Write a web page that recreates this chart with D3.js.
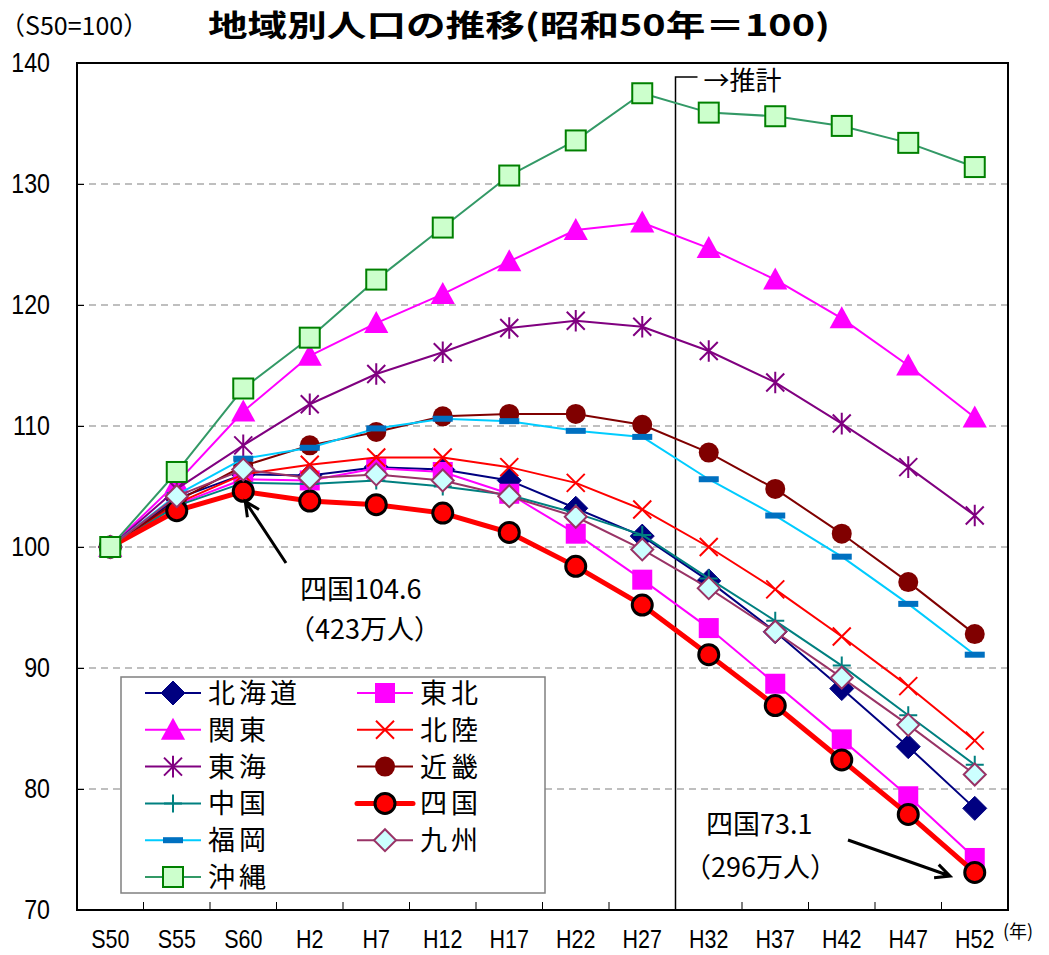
<!DOCTYPE html>
<html>
<head>
<meta charset="utf-8">
<script src="https://cdn.jsdelivr.net/npm/d3@7"></script>
<style>
  html, body { margin: 0; padding: 0; background: #fff; }
  svg { display: block; }
</style>
</head>
<body>
<svg id="chart" width="1049" height="955"></svg>
<script>
// Periods (census years, Showa / Heisei)
const periods = ["S50","S55","S60","H2","H7","H12","H17","H22","H27","H32","H37","H42","H47","H52"];
const yTicks = [70, 80, 90, 100, 110, 120, 130, 140];

// Population index by region (S50 = 100)
const hokkaido = [100, 104.0, 106.0, 105.9, 106.6, 106.4, 105.5, 103.2, 100.9, 97.2, 93.0, 88.3, 83.5, 78.4];
const tohoku   = [100, 103.5, 105.6, 105.5, 106.5, 106.2, 104.4, 101.1, 97.3, 93.3, 88.7, 84.1, 79.4, 74.3];
const kanto    = [100, 105.3, 111.2, 115.8, 118.5, 120.9, 123.6, 126.2, 126.8, 124.7, 122.1, 118.9, 115.0, 110.7];
const hokuriku = [100, 103.6, 106.0, 106.8, 107.4, 107.4, 106.6, 105.3, 103.1, 100.0, 96.5, 92.6, 88.5, 84.0];
const tokai    = [100, 104.8, 108.4, 111.8, 114.3, 116.1, 118.1, 118.7, 118.2, 116.2, 113.6, 110.2, 106.6, 102.6];
const kinki    = [100, 103.8, 106.7, 108.4, 109.5, 110.8, 111.0, 111.0, 110.1, 107.8, 104.8, 101.1, 97.1, 92.8];
const chugoku  = [100, 103.4, 105.3, 105.2, 105.5, 105.0, 104.3, 102.8, 101.0, 97.4, 93.9, 90.2, 86.1, 82.0];
const shikoku  = [100, 103.0, 104.6, 103.8, 103.5, 102.8, 101.2, 98.4, 95.2, 91.1, 86.9, 82.4, 77.9, 73.1];
const fukuoka  = [100, 104.3, 107.3, 108.2, 109.8, 110.6, 110.4, 109.6, 109.1, 105.6, 102.6, 99.2, 95.3, 91.1];
const kyushu   = [100, 104.2, 106.4, 105.7, 106.0, 105.5, 104.2, 102.5, 99.8, 96.6, 93.0, 89.2, 85.3, 81.2];
const okinawa  = [100, 106.2, 113.1, 117.3, 122.1, 126.4, 130.7, 133.6, 137.5, 135.9, 135.6, 134.8, 133.4, 131.4];

const seriesNames = ["北海道","東北","関東","北陸","東海","近畿","中国","四国","福岡","九州","沖縄"];
const seriesValues = [hokkaido, tohoku, kanto, hokuriku, tokai, kinki, chugoku, shikoku, fukuoka, kyushu, okinawa];

// Styling per region: line colour, width and marker
const styles = {
  "北海道": {line: "#000080", w: 2, marker: "diamond", fill: "#000080", stroke: "#000080"},
  "東北":   {line: "#FF00FF", w: 2, marker: "square", fill: "#FF00FF", stroke: "#FF00FF"},
  "関東":   {line: "#FF00FF", w: 2, marker: "triangle", fill: "#FF00FF", stroke: "#FF00FF"},
  "北陸":   {line: "#FF0000", w: 2, marker: "x", fill: "none", stroke: "#FF0000"},
  "東海":   {line: "#800080", w: 2, marker: "star", fill: "none", stroke: "#800080"},
  "近畿":   {line: "#800000", w: 2, marker: "circle", fill: "#800000", stroke: "#800000"},
  "中国":   {line: "#008080", w: 2, marker: "plus", fill: "none", stroke: "#008080"},
  "四国":   {line: "#FF0000", w: 5, marker: "circleBig", fill: "#FF0000", stroke: "#000000"},
  "福岡":   {line: "#00CCFF", w: 2, marker: "dash", fill: "#0070C0", stroke: "#0070C0"},
  "九州":   {line: "#993366", w: 2, marker: "diamondOpen", fill: "#CCFFFF", stroke: "#993366"},
  "沖縄":   {line: "#339966", w: 2, marker: "squareOpen", fill: "#CCFFCC", stroke: "#008000"}
};

const svg = d3.select("#chart");
const plot = {left: 77, top: 63, right: 1008, bottom: 910};

const x = d3.scaleBand().domain(periods).range([plot.left, plot.right]);
const cx = d => x(d) + x.bandwidth() / 2;
const y = d3.scaleLinear().domain([70, 140]).range([plot.bottom, plot.top]);

const numFont = "'Liberation Sans', Arial, sans-serif";
const jpFont = "'Noto Sans CJK JP', 'Noto Sans', sans-serif";
const squeeze = 0.86;   // horizontal narrowing for axis numerals

// Title
svg.append("text")
  .attr("x", 208).attr("y", 36)
  .attr("textLength", 622).attr("lengthAdjust", "spacingAndGlyphs")
  .style("font-family", jpFont).style("font-weight", "bold").style("font-size", "30px")
  .text("地域別人口の推移(昭和50年＝100)");

svg.append("text")
  .attr("x", 0).attr("y", 35)
  .style("font-family", jpFont).style("font-size", "25px")
  .text("（S50=100）");

// Horizontal gridlines
svg.append("g").selectAll("line")
  .data(yTicks.filter(v => v > 70 && v < 140))
  .join("line")
  .attr("x1", plot.left).attr("x2", plot.right)
  .attr("y1", d => y(d)).attr("y2", d => y(d))
  .attr("stroke", "#BFBFBF").attr("stroke-width", 2).attr("stroke-dasharray", "7,5");

// Y axis
const yAxis = svg.append("g")
  .attr("transform", `translate(${plot.left},0)`)
  .call(d3.axisLeft(y).tickValues(yTicks).tickSize(-7).tickFormat(d3.format("d")));
yAxis.select(".domain").remove();
yAxis.selectAll(".tick line").attr("stroke", "#000").attr("stroke-width", 1);
yAxis.selectAll("text")
  .style("font-family", numFont).style("font-size", "27px").attr("fill", "#000")
  .attr("x", -27 / squeeze).attr("transform", `scale(${squeeze},1)`);

// X axis labels at band centres
const xAxis = svg.append("g")
  .attr("transform", `translate(0,${plot.bottom})`)
  .call(d3.axisBottom(x).tickSize(0).tickPadding(20));
xAxis.select(".domain").remove();
xAxis.selectAll("text")
  .style("font-family", numFont).style("font-size", "25px").attr("fill", "#000")
  .attr("transform", `scale(${squeeze},1)`);

svg.append("text")
  .attr("x", 1003).attr("y", 938)
  .style("font-family", jpFont).style("font-size", "18px")
  .text("(年)");

// Category boundary ticks along the bottom
svg.append("g").selectAll("line")
  .data(periods.slice(1))
  .join("line")
  .attr("x1", d => x(d)).attr("x2", d => x(d))
  .attr("y1", plot.bottom).attr("y2", plot.bottom - 8)
  .attr("stroke", "#000").attr("stroke-width", 1);

// Projection divider
const divX = x("H32");
svg.append("path")
  .attr("d", `M${divX},${plot.bottom} L${divX},77 L${divX + 22},77`)
  .attr("fill", "none").attr("stroke", "#000").attr("stroke-width", 1.5);
svg.append("text")
  .attr("x", divX + 28).attr("y", 90)
  .style("font-family", jpFont).style("font-size", "26px")
  .text("→推計");

// Marker drawing
function drawMarker(g, type, st, size) {
  const s = size;
  switch (type) {
    case "diamond":
      g.append("path").attr("d", `M0,${-s*0.6}L${s*0.6},0L0,${s*0.6}L${-s*0.6},0Z`)
        .attr("fill", st.fill).attr("stroke", st.stroke).attr("stroke-width", 1);
      break;
    case "diamondOpen":
      g.append("path").attr("d", `M0,${-s*0.55}L${s*0.55},0L0,${s*0.55}L${-s*0.55},0Z`)
        .attr("fill", st.fill).attr("stroke", st.stroke).attr("stroke-width", 2);
      break;
    case "square":
      g.append("rect").attr("x", -s/2).attr("y", -s/2).attr("width", s).attr("height", s)
        .attr("fill", st.fill);
      break;
    case "squareOpen":
      g.append("rect").attr("x", -s/2).attr("y", -s/2).attr("width", s).attr("height", s)
        .attr("fill", st.fill).attr("stroke", st.stroke).attr("stroke-width", 2);
      break;
    case "triangle":
      g.append("path").attr("d", `M0,${-s*0.55}L${s*0.55},${s*0.45}L${-s*0.55},${s*0.45}Z`)
        .attr("fill", st.fill);
      break;
    case "x":
      g.append("path").attr("d", `M${-s/2},${-s/2}L${s/2},${s/2}M${s/2},${-s/2}L${-s/2},${s/2}`)
        .attr("stroke", st.stroke).attr("stroke-width", 2);
      break;
    case "star":
      g.append("path").attr("d", `M${-s/2},${-s/2}L${s/2},${s/2}M${s/2},${-s/2}L${-s/2},${s/2}M0,${-s*0.6}L0,${s*0.6}`)
        .attr("stroke", st.stroke).attr("stroke-width", 2);
      break;
    case "plus":
      g.append("path").attr("d", `M${-s/2},0L${s/2},0M0,${-s/2}L0,${s/2}`)
        .attr("stroke", st.stroke).attr("stroke-width", 2);
      break;
    case "circle":
      g.append("circle").attr("r", s/2).attr("fill", st.fill);
      break;
    case "circleBig":
      g.append("circle").attr("r", s/2).attr("fill", st.fill).attr("stroke", st.stroke).attr("stroke-width", 3);
      break;
    case "dash":
      g.append("rect").attr("x", -s/2).attr("y", -3).attr("width", s).attr("height", 6)
        .attr("fill", st.fill);
      break;
  }
}

const markerSize = {diamond: 20, diamondOpen: 20, square: 20, squareOpen: 20, triangle: 22,
  x: 18, star: 18, plus: 18, circle: 20, circleBig: 20, dash: 20};

const line = d3.line().x((d, i) => cx(periods[i])).y(d => y(d));

// Series
seriesNames.forEach((name, k) => {
  const st = styles[name];
  const vals = seriesValues[k];
  const g = svg.append("g");
  g.append("path").datum(vals).attr("d", line)
    .attr("fill", "none").attr("stroke", st.line).attr("stroke-width", st.w)
    .attr("stroke-linejoin", "round");
  vals.forEach((v, i) => {
    const m = g.append("g").attr("transform", `translate(${cx(periods[i])},${y(v)})`);
    drawMarker(m, st.marker, st, markerSize[st.marker]);
  });
});

// Plot border
svg.append("rect")
  .attr("x", plot.left).attr("y", plot.top)
  .attr("width", plot.right - plot.left).attr("height", plot.bottom - plot.top)
  .attr("fill", "none").attr("stroke", "#000").attr("stroke-width", 2);

// Legend
const legend = svg.append("g");
legend.append("rect").attr("x", 121).attr("y", 677).attr("width", 424).attr("height", 216)
  .attr("fill", "#fff").attr("stroke", "#808080").attr("stroke-width", 1.5);
seriesNames.forEach((name, k) => {
  const col = k % 2, row = Math.floor(k / 2);
  const lx = col === 0 ? 145 : 357;
  const ly = 693 + row * 36.8;
  const st = styles[name];
  const item = legend.append("g");
  item.append("line").attr("x1", lx).attr("x2", lx + 56).attr("y1", ly).attr("y2", ly)
    .attr("stroke", st.line).attr("stroke-width", st.w).attr("stroke-linecap", st.w > 3 ? "round" : "butt");
  const m = item.append("g").attr("transform", `translate(${lx + 28},${ly})`);
  drawMarker(m, st.marker, st, markerSize[st.marker]);
  item.append("text").attr("x", lx + 63).attr("y", ly + 10)
    .style("font-family", jpFont).style("font-size", "27px").style("letter-spacing", "4px")
    .text(name);
});

// Annotations for Shikoku
const ann = svg.append("g").style("font-family", jpFont).style("font-size", "27px");
ann.append("text").attr("x", 300).attr("y", 599).text("四国" + shikoku[2]);
ann.append("text").attr("x", 288).attr("y", 639).text("（423万人）");
ann.append("text").attr("x", 706).attr("y", 834).text("四国" + shikoku[13]);
ann.append("text").attr("x", 684).attr("y", 877).text("（296万人）");

function arrow(x1, y1, x2, y2) {
  const a = Math.atan2(y2 - y1, x2 - x1);
  const h = 16, sp = 0.45;
  svg.append("path")
    .attr("d", `M${x1},${y1}L${x2},${y2}M${x2 - h*Math.cos(a - sp)},${y2 - h*Math.sin(a - sp)}L${x2},${y2}L${x2 - h*Math.cos(a + sp)},${y2 - h*Math.sin(a + sp)}`)
    .attr("fill", "none").attr("stroke", "#000").attr("stroke-width", 3);
}
arrow(286, 563, cx("S60") + 2, y(shikoku[2]) + 10);
arrow(848, 840, 950, 876);
</script>
</body>
</html>
